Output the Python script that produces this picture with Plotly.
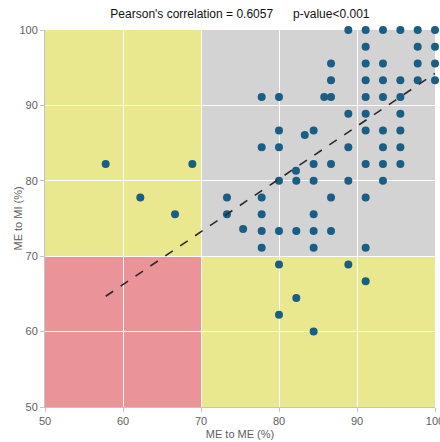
import numpy as np
import plotly.graph_objects as go

# Data (ME to ME %, ME to MI %)
me_to_me = [
    88.89, 91.11, 93.33, 95.56, 97.78, 100,
    91.11, 97.78, 100,
    86.67, 91.11, 93.33, 97.78, 100,
    86.67, 91.11, 93.33, 95.56, 97.78, 100,
    77.78, 80, 85.8, 86.67, 91.11, 93.33, 95.56,
    88.89, 91.11, 95.56,
    80, 84.44, 91.11, 93.33, 95.56, 83.3,
    77.78, 80, 88.89, 93.33, 95.56,
    84.44, 86.67, 91.11, 93.33, 95.56, 57.78, 68.89, 82.18,
    80, 82.22, 84.44, 88.89, 93.33,
    73.33, 77.78, 86.67, 91.11, 62.22,
    73.33, 77.78, 84.44, 66.67, 75.4,
    77.78, 80, 82.22, 84.44, 86.67,
    77.78, 84.44, 91.11,
    80, 88.89,
    91.11,
    82.22,
    80,
    84.44,
]
me_to_mi = [
    100, 100, 100, 100, 100, 100,
    97.78, 97.78, 97.78,
    95.56, 95.56, 95.56, 95.56, 95.56,
    93.33, 93.33, 93.33, 93.33, 93.33, 93.33,
    91.11, 91.11, 91.11, 91.11, 91.11, 91.11, 91.11,
    88.89, 88.89, 88.89,
    86.67, 86.67, 86.67, 86.67, 86.67, 86.07,
    84.44, 84.44, 84.44, 84.44, 84.44,
    82.22, 82.22, 82.22, 82.22, 82.22, 82.22, 82.22, 81.34,
    80, 80, 80, 80, 80,
    77.78, 77.78, 77.78, 77.78, 77.78,
    75.56, 75.56, 75.56, 75.56, 73.6,
    73.33, 73.33, 73.33, 73.33, 73.33,
    71.11, 71.11, 71.11,
    68.89, 68.89,
    66.67,
    64.44,
    62.22,
    60,
]
# Fitted trend line (overlapping points hide duplicates)
fit_slope = 0.700
fit_intercept = 24.24
title_text = "Pearson's correlation = 0.6057&nbsp;&nbsp;&nbsp;&nbsp;&nbsp;&nbsp;p-value<0.001"
x_title = "ME to ME (%)"
y_title = "ME to MI (%)"
tick_vals = [50, 60, 70, 80, 90, 100]

x = np.array(me_to_me)
lx = np.array([x.min(), x.max()])
ly = fit_slope * lx + fit_intercept

fig = go.Figure()
fig.add_trace(go.Scatter(x=me_to_me, y=me_to_mi, mode="markers",
                         marker=dict(size=8, color="#1a5e84"),
                         showlegend=False, cliponaxis=False))
fig.add_trace(go.Scatter(x=lx, y=ly, mode="lines",
                         line=dict(color="#2a2a2a", width=1.6, dash="dash"),
                         showlegend=False))

quad = [
    (50, 70, 50, 70, "#ea9499"),
    (50, 70, 70, 100, "#e9e88f"),
    (70, 100, 50, 70, "#e9e88f"),
    (70, 100, 70, 100, "#d3d3d3"),
]
for x0, x1, y0, y1, c in quad:
    fig.add_shape(type="rect", xref="x", yref="y", x0=x0, x1=x1, y0=y0, y1=y1,
                  fillcolor=c, line=dict(width=0), layer="below")

axis_common = dict(
    range=[50, 100], tickvals=tick_vals, showgrid=True, gridcolor="white",
    gridwidth=1.3, zeroline=False, showline=True, linecolor="#c4c4c4",
    linewidth=1, ticks="outside", ticklen=4, tickcolor="#c4c4c4",
    tickfont=dict(size=11, color="#606060"), ticklabeloverflow="allow",
    automargin=False,
)
fig.update_xaxes(**axis_common, title=dict(text=x_title, standoff=4,
                 font=dict(size=11, color="#606060")))
fig.update_yaxes(**axis_common)

fig.add_annotation(text=y_title, xref="paper", yref="paper",
                   x=-28 / 390, y=0.5, xanchor="center", yanchor="middle",
                   textangle=-90, showarrow=False,
                   font=dict(size=11, color="#606060"))

fig.update_layout(
    width=440, height=442,
    margin=dict(l=45, r=5, t=30, b=35),
    paper_bgcolor="white", plot_bgcolor="white",
    font=dict(family="Liberation Sans, Arial, sans-serif"),
    title=dict(text=title_text, x=0.5453, xanchor="center", y=0.968, yanchor="middle",
               font=dict(size=12, color="#111111")),
)
fig.write_html("out.html")
